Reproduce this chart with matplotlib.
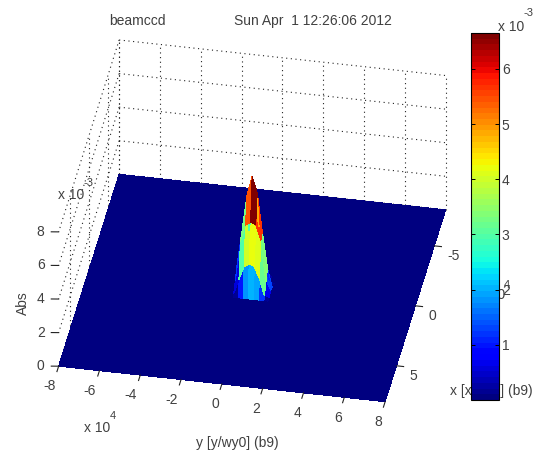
import numpy as np
import matplotlib
matplotlib.use("Agg")
import matplotlib.pyplot as plt

plt.rcParams["font.family"] = ["Liberation Sans", "DejaVu Sans"]

# beam profile, z in units of 1e-3, y in units of 1e4
y_samples = [-8, -1.0, -0.75, -0.5, -0.25, 0, 0.25, 0.5, 0.75, 1.0, 8]
x_samples = [-8, -1.5, -1.0, -0.5, 0, 0.4, 0.8, 1.0, 8]
z_row0 = [0, 0, 0, 0, 0, 0, 0, 0, 0, 0, 0]
z_row1 = [0, 0, 0, 0, 0.05, 0.1, 0.05, 0, 0, 0, 0]
z_row2 = [0, 0, 0.05, 0.3, 0.7, 1.0, 0.7, 0.3, 0.05, 0, 0]
z_row3 = [0, 0, 0.2, 1.0, 3.0, 4.8, 3.3, 1.1, 0.2, 0, 0]
z_row4 = [0, 0.1, 1.2, 3.3, 5.5, 6.65, 5.7, 3.4, 1.3, 0.1, 0]
z_row5 = [0, 0.05, 0.6, 3.0, 4.0, 4.2, 4.1, 3.2, 0.7, 0.05, 0]
z_row6 = [0, 0, 0.15, 1.0, 1.8, 2.0, 1.9, 1.2, 0.2, 0, 0]
z_row7 = [0, 0, 0, 0, 0, 0, 0, 0, 0, 0, 0]
z_row8 = [0, 0, 0, 0, 0, 0, 0, 0, 0, 0, 0]
z_rows = [z_row0, z_row1, z_row2, z_row3, z_row4, z_row5, z_row6, z_row7, z_row8]

y_ticks = [-8, -6, -4, -2, 0, 2, 4, 6, 8]
x_ticks = [-5, 0, 5]
z_ticks = [0, 2, 4, 6, 8]
cbar_ticks = [1, 2, 3, 4, 5, 6]
z_max = 6.65

txt = "#404040"
fig = plt.figure(figsize=(5.39, 4.54), dpi=100)

ax = fig.add_axes([19 / 539, 0, 454 / 539, 1], projection="3d")
ax.set_proj_type("ortho")
ax.set_axis_off()
ax.set_xlim(-8, 8)
ax.set_ylim(-8, 8)
ax.set_zlim(0, 8)
ax.set_box_aspect((1, 1, 0.5), zoom=1.065)
ax.view_init(elev=36, azim=10.5)
ax.computed_zorder = False

Y, X = np.meshgrid(y_samples, x_samples)
Z = np.array(z_rows)
jet = plt.get_cmap("jet", 64)
norm = plt.Normalize(0, z_max)
ax.plot_surface(X, Y, Z, rstride=1, cstride=1, facecolors=jet(norm(Z)), shade=False,
                linewidth=0, antialiased=False, zorder=2)

# grille pointillee, mur du fond et mur de gauche
grid = dict(color="#222222", linestyle=(0, (1, 3.2)), linewidth=0.8, zorder=1)
for t in y_ticks:
    ax.plot([-8, -8], [t, t], [0, 8], **grid)
for t in [-8] + x_ticks:
    ax.plot([t, t], [-8, -8], [0, 8], **grid)
for t in z_ticks:
    ax.plot([-8, -8], [-8, 8], [t, t], **grid)
    ax.plot([-8, 8], [-8, -8], [t, t], **grid)

# graduations et labels
tick = dict(color="#222222", linewidth=0.8, zorder=3)
for t in y_ticks:
    ax.plot([8, 8.45], [t, t], [0, 0], **tick)
    ax.text(9.7, t - 0.15 if t < 0 else t, 0, str(t), ha="center", va="center", fontsize=10, color=txt)
for t in x_ticks:
    ax.plot([t, t], [8, 8.35], [0, 0], **tick)
    ax.text(t + 0.7, 8.75, 0, str(t), ha="left", va="center", fontsize=10, color=txt)
for t in z_ticks:
    ax.plot([8, 8.06], [-8, -8.35], [t, t], **tick)
    ax.text(8.15, -8.85, t, str(t), ha="center", va="center", fontsize=10, color=txt)

fig.text(137 / 539, 1 - 21 / 454, "beamccd", ha="center", va="center", fontsize=10, color=txt)
fig.text(313 / 539, 1 - 21 / 454, "Sun Apr  1 12:26:06 2012", ha="center", va="center", fontsize=10, color=txt)
fig.text(71 / 539, 1 - 195 / 454, "x 10", ha="center", va="center", fontsize=10, color=txt)
fig.text(89 / 539, 1 - 183 / 454, "-3", ha="center", va="center", fontsize=8, color=txt)
fig.text(23 / 539, 1 - 303 / 454, "Abs", rotation=90, ha="center", va="center", fontsize=10, color=txt)
fig.text(97 / 539, 1 - 428 / 454, "x 10", ha="center", va="center", fontsize=10, color=txt)
fig.text(113 / 539, 1 - 416 / 454, "4", ha="center", va="center", fontsize=8, color=txt)
fig.text(237 / 539, 1 - 443 / 454, "y [y/wy0] (b9)", ha="center", va="center", fontsize=10, color=txt)
fig.text(491 / 539, 1 - 391 / 454, "x [x/wx0] (b9)", ha="center", va="center", fontsize=10, color=txt, zorder=1)
fig.text(492 / 539, 1 - 295 / 454, "x 10", ha="center", va="center", fontsize=10, color=txt, zorder=1)
fig.text(507 / 539, 1 - 285 / 454, "4", ha="center", va="center", fontsize=8, color=txt, zorder=1)

cax = fig.add_axes([470.5 / 539, 1 - 400 / 454, 28.5 / 539, 367 / 454], zorder=5)
sm = plt.cm.ScalarMappable(norm=norm, cmap=jet)
cb = fig.colorbar(sm, cax=cax, ticks=cbar_ticks)
cb.ax.set_yticklabels([str(t) for t in cbar_ticks])
cb.ax.tick_params(direction="in", length=3, width=0.7, left=True, right=True, labelsize=10,
                  labelcolor=txt, pad=2)
cb.outline.set_linewidth(0.8)
fig.text(511 / 539, 1 - 27 / 454, "x 10", ha="center", va="center", fontsize=10, color=txt)
fig.text(528 / 539, 1 - 13 / 454, "-3", ha="center", va="center", fontsize=8, color=txt)

fig.savefig("out.png", dpi=100)
